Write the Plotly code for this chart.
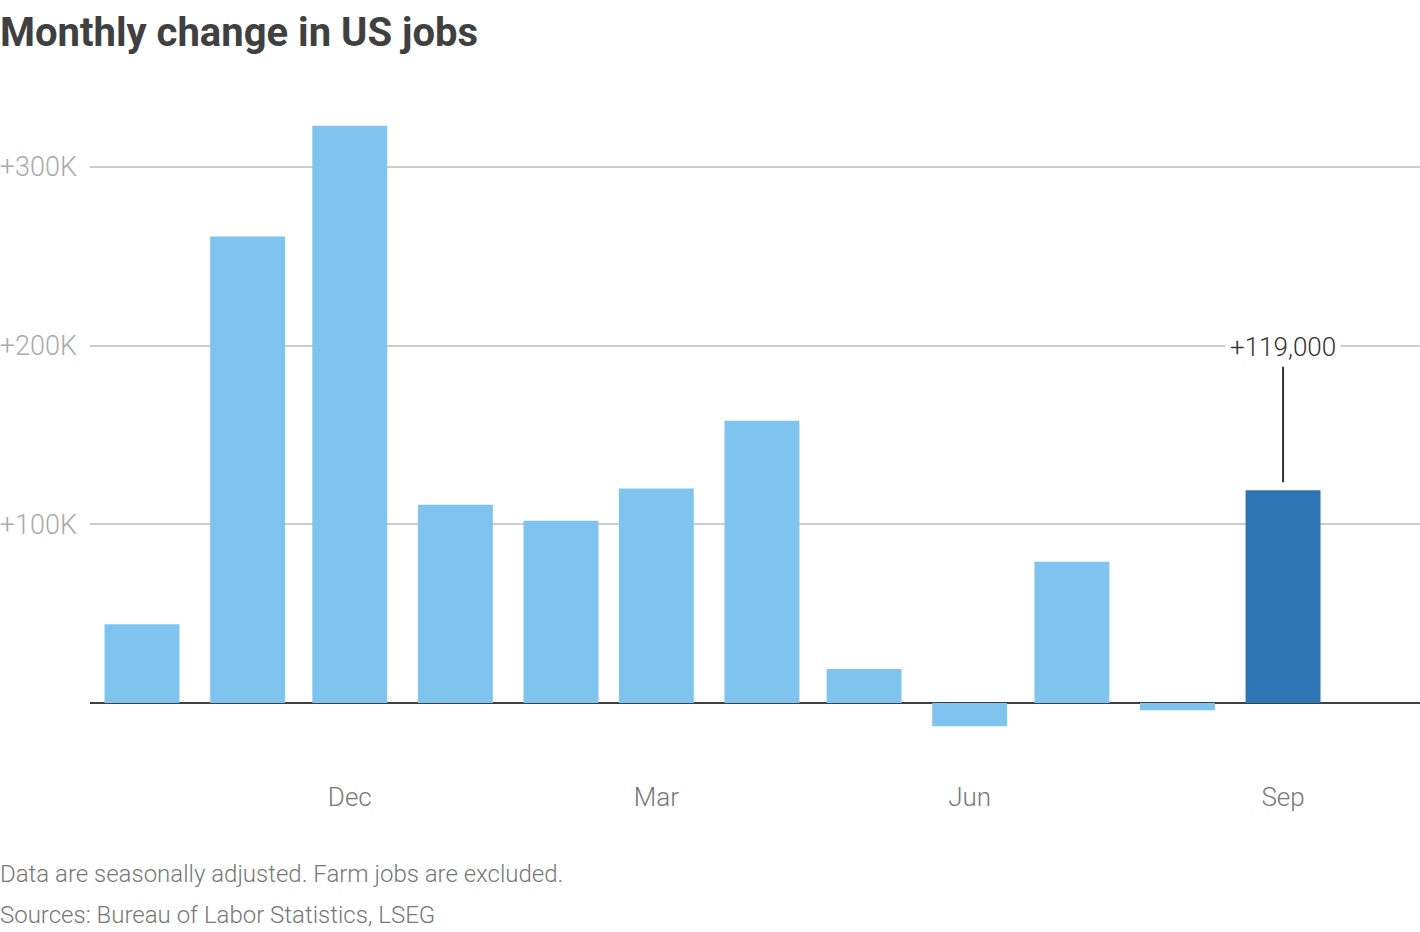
import plotly.graph_objects as go

# Monthly nonfarm payroll change, Oct 2024 - Sep 2025
months = ["2024-10-01", "2024-11-01", "2024-12-01", "2025-01-01", "2025-02-01", "2025-03-01",
          "2025-04-01", "2025-05-01", "2025-06-01", "2025-07-01", "2025-08-01", "2025-09-01"]
job_change = [44000, 261000, 323000, 111000, 102000, 120000,
              158000, 19000, -13000, 79000, -4000, 119000]

tick_months = ["2024-12-01", "2025-03-01", "2025-06-01", "2025-09-01"]
tick_month_labels = ["Dec", "Mar", "Jun", "Sep"]
y_ticks = [100000, 200000, 300000]
y_tick_labels = ["+100K", "+200K", "+300K"]

LIGHT = "#7fc4ee"
DARK = "#2e75b6"
FONT = "Roboto"

bar_colors = [LIGHT] * (len(months) - 1) + [DARK]
day_ms = 86400000

fig = go.Figure()
fig.add_trace(go.Bar(x=months, y=job_change, marker_color=bar_colors,
                     marker_line_width=0, width=[22 * day_ms] * len(months),
                     hoverinfo="x+y"))

# label the latest month
fig.add_annotation(x=months[-1], y=job_change[-1], text=f"+{job_change[-1]:,}",
                   showarrow=True, arrowhead=0, arrowwidth=2, arrowcolor="#333333",
                   ax=0, ay=-143, standoff=8, bgcolor="white", borderpad=4,
                   font=dict(family=FONT, size=26, color="#333333", weight=300))

# footnotes, left edge of the page
for txt, ypix in [("Data are seasonally adjusted. Farm jobs are excluded.", 874),
                  ("Sources: Bureau of Labor Statistics, LSEG", 915)]:
    fig.add_annotation(text=txt, xref="paper", yref="paper",
                       x=-92 / 1330, y=(772 - ypix) / 672,
                       xanchor="left", yanchor="middle", showarrow=False,
                       font=dict(family=FONT, size=24, color="#777777", weight=300))

fig.update_layout(
    width=1420, height=932,
    margin=dict(l=90, r=0, t=100, b=160),
    plot_bgcolor="white", paper_bgcolor="white",
    showlegend=False,
    title=dict(text="<b>Monthly change in US jobs</b>", xref="container", x=0, xanchor="left",
               yref="container", y=1 - 32 / 932, yanchor="middle",
               font=dict(family=FONT, size=40, color="#404040")),
    xaxis=dict(type="date", range=["2024-09-15 17:30", "2025-10-11 05:00"],
               tickvals=tick_months, ticktext=tick_month_labels,
               showgrid=False, zeroline=False, showline=False, ticks="",
               ticklabelstandoff=7,
               tickfont=dict(family=FONT, size=26, color="#777777", weight=300)),
    yaxis=dict(range=[-38600, 337400], tickvals=y_ticks, ticktext=y_tick_labels,
               showgrid=True, gridcolor="#cccccc", gridwidth=1.5,
               zeroline=True, zerolinecolor="#404040", zerolinewidth=2,
               ticks="", ticklabelstandoff=12,
               tickfont=dict(family=FONT, size=27, color="#aaaaaa", weight=300)),
)

fig.write_html("out.html", config={"displayModeBar": False},
               post_script="document.body.style.margin = '0';")
